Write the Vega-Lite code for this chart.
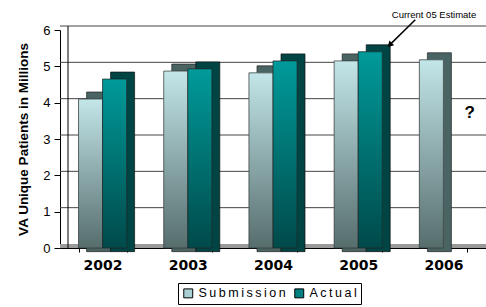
{
  "$schema": "https://vega.github.io/schema/vega-lite/v6.json",
  "width": 426,
  "height": 218,
  "autosize": {"type": "none"},
  "padding": {"left": 60, "top": 30, "right": 0, "bottom": 59},
  "background": "white",
  "config": {"view": {"stroke": null}, "font": "Liberation Sans"},
  "datasets": {
    "bars": [
      {"year": "2002", "series": "Submission", "value": 4.1},
      {"year": "2002", "series": "Actual", "value": 4.65},
      {"year": "2003", "series": "Submission", "value": 4.87},
      {"year": "2003", "series": "Actual", "value": 4.93},
      {"year": "2004", "series": "Submission", "value": 4.82},
      {"year": "2004", "series": "Actual", "value": 5.15},
      {"year": "2005", "series": "Submission", "value": 5.15},
      {"year": "2005", "series": "Actual", "value": 5.4},
      {"year": "2006", "series": "Submission", "value": 5.18}
    ],
    "notes": [
      {"kind": "arrow", "xa": 4.17, "ya": 6.28, "xb": 3.87, "yb": 5.59},
      {"kind": "label", "xa": 4.39, "ya": 6.41, "text": "Current 05 Estimate"},
      {"kind": "mark", "xa": 4.81, "ya": 3.72, "text": "?"},
      {"kind": "wall", "xa": 0.094, "ya": 6, "xb": 0.094, "yb": 0}
    ],
    "grid": [{"level": 1}, {"level": 2}, {"level": 3}, {"level": 4}, {"level": 5}, {"level": 6}],
    "floor": [{"level": 0}]
  },
  "layer": [
    {
      "data": {"name": "grid"},
      "mark": {"type": "rule", "color": "#444", "strokeWidth": 1, "yOffset": -4},
      "encoding": {
        "y": {"field": "level", "type": "quantitative", "scale": {"domain": [0, 6], "nice": false}, "axis": null}
      }
    },
    {
      "data": {"name": "floor"},
      "mark": {"type": "rule", "color": "#9a9a9a", "strokeWidth": 4, "yOffset": -2},
      "encoding": {
        "y": {"field": "level", "type": "quantitative", "scale": {"domain": [0, 6], "nice": false}, "axis": null}
      }
    },
    {
      "data": {"name": "bars"},
      "encoding": {
        "x": {
          "field": "year", "type": "nominal",
          "scale": {"domain": ["2002", "2003", "2004", "2005", "2006"], "paddingInner": 0.435, "paddingOuter": 0.2175},
          "axis": {
            "title": null, "labelAngle": 0, "labelFont": "DejaVu Sans", "labelFontWeight": "bold",
            "labelFontSize": 14, "labelColor": "#000", "labelPadding": 6,
            "tickBand": "extent", "tickSize": 4, "tickColor": "#000", "domainColor": "#000", "domainWidth": 1
          }
        },
        "y": {
          "field": "value", "type": "quantitative",
          "scale": {"domain": [0, 6], "nice": false},
          "axis": {
            "values": [0, 1, 2, 3, 4, 5, 6], "title": "VA Unique Patients in Millions",
            "titleFontSize": 13.5, "titleFontWeight": "bold", "titleColor": "#000", "titlePadding": 12,
            "labelFontSize": 13, "labelColor": "#000", "labelPadding": 4,
            "tickSize": 6, "tickColor": "#000", "domainColor": "#000", "grid": false
          }
        }
      },
      "layer": [
        {
          "transform": [{"filter": "datum.series === 'Submission'"}],
          "mark": {"type": "bar", "width": 24, "xOffset": -4, "yOffset": -7, "color": "#4a6464", "stroke": "#222", "strokeWidth": 0.7},
          "encoding": {"y2": {"datum": -0.1}}
        },
        {
          "transform": [{"filter": "datum.series === 'Actual'"}],
          "mark": {"type": "bar", "width": 24, "xOffset": 20, "yOffset": -7, "color": "#004444", "stroke": "#111", "strokeWidth": 0.7},
          "encoding": {"y2": {"datum": -0.1}}
        },
        {
          "mark": {"type": "bar"},
          "encoding": {
            "xOffset": {"field": "series", "type": "nominal", "scale": {"domain": ["Submission", "Actual"], "paddingInner": 0, "paddingOuter": 0}},
            "color": {
              "field": "series", "type": "nominal",
              "scale": {"domain": ["Submission", "Actual"], "range": ["#a9cfd2", "#008080"]},
              "legend": {
                "title": null, "orient": "none", "direction": "horizontal", "legendX": 118, "legendY": 253,
                "strokeColor": "#000", "padding": 4, "symbolType": "square", "symbolSize": 80,
                "symbolStrokeColor": "#000", "symbolStrokeWidth": 1, "labelFontSize": 12.5,
                "labelExpr": "join(split(datum.label, ''), '\u2009')",
                "labelColor": "#000", "columnPadding": 6, "labelOffset": 4
              }
            }
          }
        },
        {
          "transform": [{"filter": "datum.series === 'Submission'"}],
          "mark": {
            "type": "bar", "stroke": "#333", "strokeWidth": 0.7,
            "color": {"gradient": "linear", "x1": 0, "y1": 0, "x2": 0, "y2": 1,
              "stops": [{"offset": 0, "color": "#c3e6e9"}, {"offset": 1, "color": "#566d6d"}]}
          },
          "encoding": {"xOffset": {"field": "series", "type": "nominal", "scale": {"domain": ["Submission", "Actual"], "paddingInner": 0, "paddingOuter": 0}}}
        },
        {
          "transform": [{"filter": "datum.series === 'Actual'"}],
          "mark": {
            "type": "bar", "stroke": "#222", "strokeWidth": 0.7,
            "color": {"gradient": "linear", "x1": 0, "y1": 0, "x2": 0, "y2": 1,
              "stops": [{"offset": 0, "color": "#009a9a"}, {"offset": 1, "color": "#004a4a"}]}
          },
          "encoding": {"xOffset": {"field": "series", "type": "nominal", "scale": {"domain": ["Submission", "Actual"], "paddingInner": 0, "paddingOuter": 0}}}
        }
      ]
    },
    {
      "data": {"name": "notes"},
      "encoding": {
        "x": {"field": "xa", "type": "quantitative", "scale": {"domain": [0, 5], "nice": false}, "axis": null},
        "y": {"field": "ya", "type": "quantitative", "scale": {"domain": [0, 6], "nice": false}, "axis": null}
      },
      "layer": [
        {
          "transform": [{"filter": "datum.kind === 'wall'"}],
          "mark": {"type": "rule", "color": "#000", "strokeWidth": 1, "yOffset": -4, "clip": false},
          "encoding": {"x2": {"field": "xb"}, "y2": {"field": "yb"}}
        },
        {
          "transform": [{"filter": "datum.kind === 'arrow'"}],
          "mark": {"type": "rule", "color": "#000", "strokeWidth": 1.5, "clip": false},
          "encoding": {"x2": {"field": "xb"}, "y2": {"field": "yb"}}
        },
        {
          "transform": [{"filter": "datum.kind === 'arrow'"}],
          "mark": {"type": "point", "shape": "triangle-up", "filled": true, "color": "#000", "size": 45, "angle": 225, "opacity": 1, "clip": false},
          "encoding": {
            "x": {"field": "xb", "type": "quantitative", "scale": {"domain": [0, 5], "nice": false}, "axis": null},
            "y": {"field": "yb", "type": "quantitative", "scale": {"domain": [0, 6], "nice": false}, "axis": null}
          }
        },
        {
          "transform": [{"filter": "datum.kind === 'label'"}],
          "mark": {"type": "text", "color": "#000", "clip": false, "baseline": "middle", "align": "center", "fontSize": 9.5},
          "encoding": {"text": {"field": "text"}}
        },
        {
          "transform": [{"filter": "datum.kind === 'mark'"}],
          "mark": {"type": "text", "color": "#000", "clip": false, "baseline": "middle", "align": "center", "fontSize": 17, "fontWeight": "bold"},
          "encoding": {"text": {"field": "text"}}
        }
      ]
    }
  ],
  "resolve": {"scale": {"x": "independent"}, "axis": {"x": "independent", "y": "independent"}}
}
